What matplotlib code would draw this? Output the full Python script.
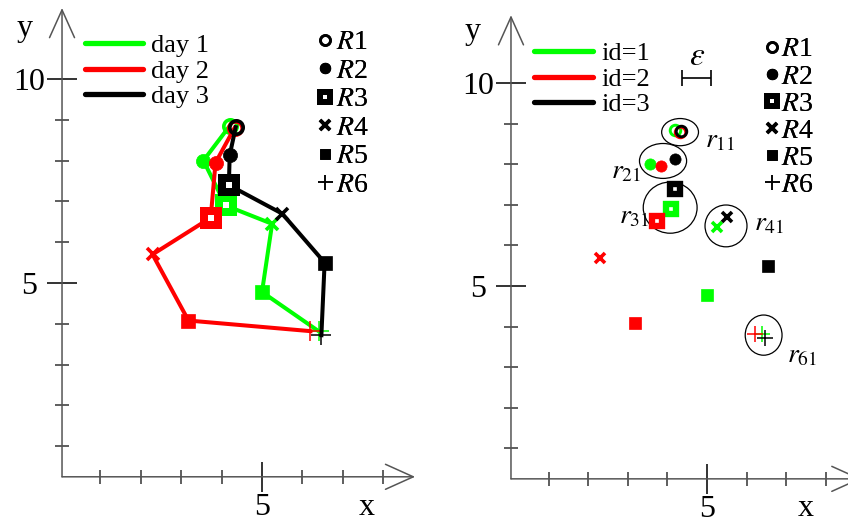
import numpy as np
import matplotlib
matplotlib.use('Agg')
import matplotlib.pyplot as plt
from matplotlib.patches import Ellipse
from matplotlib.lines import Line2D

plt.rcParams['font.family'] = ['Liberation Serif', 'DejaVu Serif']
plt.rcParams['mathtext.fontset'] = 'stix'

# positions of the six places R1..R6 for each day (same in both panels)
x_day1 = [4.20, 3.55, 4.10, 5.25, 5.00, 6.40]
y_day1 = [8.85, 8.00, 6.90, 6.45, 4.78, 3.82]
x_day2 = [4.32, 3.85, 3.73, 2.29, 3.18, 6.20]
y_day2 = [8.80, 7.95, 6.60, 5.70, 4.08, 3.82]
x_day3 = [4.35, 4.20, 4.18, 5.50, 6.55, 6.47]
y_day3 = [8.82, 8.13, 7.40, 6.70, 5.50, 3.72]

days = ['day 1', 'day 2', 'day 3']
ids = ['id=1', 'id=2', 'id=3']
places = [r'$R$1', r'$R$2', r'$R$3', r'$R$4', r'$R$5', r'$R$6']
colors = ['#00ff00', '#ff0000', 'black']

# clusters in the right panel
clu_names = [r'$r_{11}$', r'$r_{21}$', r'$r_{31}$', r'$r_{41}$', r'$r_{61}$']
clu_x = [4.32, 3.89, 4.07, 5.48, 6.43]
clu_y = [8.79, 8.08, 6.93, 6.48, 3.79]
clu_w = [0.93, 1.19, 1.36, 1.06, 0.93]
clu_h = [0.67, 0.86, 1.26, 1.03, 0.99]
lab_x = [4.95, 2.58, 2.78, 6.19, 7.02]
lab_y = [8.42, 7.66, 6.55, 6.38, 3.13]
eps = 0.73

X = [x_day1, x_day2, x_day3]
Y = [y_day1, y_day2, y_day3]


def marker_style(k, c, s=1.0):
    if k == 0:
        return dict(marker='o', ms=8 * s, mfc='none', mec=c, mew=2.2 * s)
    if k == 1:
        return dict(marker='o', ms=8.5 * s, mfc=c, mec=c, mew=0.5)
    if k == 2:
        return dict(marker='s', ms=8 * s, mfc='white', mec=c, mew=4.8 * s)
    if k == 3:
        return dict(marker='x', ms=7.5 * s, mfc=c, mec=c, mew=2.6)
    if k == 4:
        return dict(marker='s', ms=8.5 * s, mfc=c, mec=c, mew=0.5)
    return dict(marker='+', ms=12 * s, mfc=c, mec=c, mew=1.1)


fig = plt.figure(figsize=(8.48, 5.25), dpi=100)
W, H = 848.0, 525.0


def make_axes(x0, ux, y0, uy, xlim, ylim):
    left = x0 + xlim[0] * ux
    right = x0 + xlim[1] * ux
    top = y0 - ylim[1] * uy
    bottom = y0 - ylim[0] * uy
    ax = fig.add_axes([left / W, 1 - bottom / H, (right - left) / W, (bottom - top) / H])
    ax.set_xlim(*xlim)
    ax.set_ylim(*ylim)
    return ax


def draw_frame(ax, xtip, ytip, xlab, ylab):
    for s in ax.spines.values():
        s.set_visible(False)
    ax.spines['bottom'].set_position(('data', 0.25))
    ax.spines['left'].set_position(('data', 0.05))
    arrow = dict(arrowstyle='->,head_length=1.0,head_width=0.45', mutation_scale=20,
                 lw=1.1, color='#555555', shrinkA=0, shrinkB=0)
    ax.annotate('', xy=(xtip, 0.25), xytext=(0.05, 0.25), arrowprops=arrow, annotation_clip=False)
    ax.annotate('', xy=(0.05, ytip), xytext=(0.05, 0.25), arrowprops=arrow, annotation_clip=False)
    ax.set_xticks([5])
    ax.set_xticks([1, 2, 3, 4, 6, 7, 8], minor=True)
    ax.set_yticks([5, 10])
    ax.set_yticks([1, 2, 3, 4, 6, 7, 8, 9], minor=True)
    ax.tick_params(which='major', direction='inout', length=21, width=1.2, color='#111111',
                   labelsize=23)
    ax.tick_params(axis='x', which='major', pad=1)
    ax.tick_params(axis='y', which='major', pad=13)
    for lbl in ax.get_yticklabels():
        lbl.set_ha('center')
    ax.tick_params(which='minor', direction='inout', length=10, width=1.1, color='#333333')
    ax.text(xlab[0], xlab[1], 'x', fontsize=23, ha='center', va='center')
    ax.text(ylab[0], ylab[1], 'y', fontsize=23, ha='center', va='center')


def place_legend(ax, labels, anchor, hl, pad, sp):
    h = [Line2D([], [], ls='none', color='black', **marker_style(k, 'black', 0.9)) for k in range(6)]
    leg = ax.legend(h, labels, loc='upper left', bbox_to_anchor=(anchor[0] / W, 1 - anchor[1] / H),
                    bbox_transform=fig.transFigure, frameon=False, fontsize=20, numpoints=1,
                    handlelength=hl, handletextpad=pad, labelspacing=sp, borderpad=0, borderaxespad=0)
    ax.add_artist(leg)


def line_legend(ax, labels, anchor, hl):
    h = [Line2D([], [], color=c, lw=3.8, solid_capstyle='round') for c in colors]
    leg = ax.legend(h, labels, loc='upper left', bbox_to_anchor=(anchor[0] / W, 1 - anchor[1] / H),
                    bbox_transform=fig.transFigure, frameon=False, fontsize=19,
                    handlelength=hl, handletextpad=0.3, labelspacing=0.07, borderpad=0, borderaxespad=0)
    ax.add_artist(leg)


# left panel: tracks
ax1 = make_axes(60, 40.4, 487, 40.8, (-1.45, 8.9), (-0.9, 11.9))
draw_frame(ax1, 8.79, 11.74, (7.6, -0.5), (-0.87, 11.25))
for d in range(3):
    ax1.plot(X[d], Y[d], color=colors[d], lw=2.9, zorder=2 + d)
    for k in range(6):
        ax1.plot(X[d][k], Y[d][k], color=colors[d], zorder=2 + d, **marker_style(k, colors[d], 1.2))
line_legend(ax1, days, (85, 34), 2.2)
place_legend(ax1, places, (315, 30), 0.7, 0.05, 0.11)

# right panel: clustered places
ax2 = make_axes(509, 39.6, 489, 40.6, (-1.45, 8.6), (-0.85, 11.9))
draw_frame(ax2, 8.9, 11.67, (7.5, -0.48), (-0.91, 11.26))
for i in range(len(clu_x)):
    ax2.add_patch(Ellipse((clu_x[i], clu_y[i]), clu_w[i], clu_h[i], fill=False,
                          ec='black', lw=0.9, zorder=1))
    ax2.text(lab_x[i], lab_y[i], clu_names[i], fontsize=20, ha='left', va='baseline')
for d in range(3):
    for k in range(6):
        ax2.plot(X[d][k], Y[d][k], color=colors[d], zorder=2 + d, **marker_style(k, colors[d], 0.95))
ax2.errorbar([4.73], [10.12], xerr=[eps / 2], fmt='none', ecolor='black', elinewidth=1.2,
             capsize=5.8, capthick=1.2)
ax2.text(4.75, 10.64, r'$\varepsilon$', fontsize=24, ha='center', va='center')
line_legend(ax2, ids, (534, 42), 2.25)
place_legend(ax2, places, (762, 37), 0.7, 0.0, 0.06)

fig.savefig('out.png', dpi=100)
